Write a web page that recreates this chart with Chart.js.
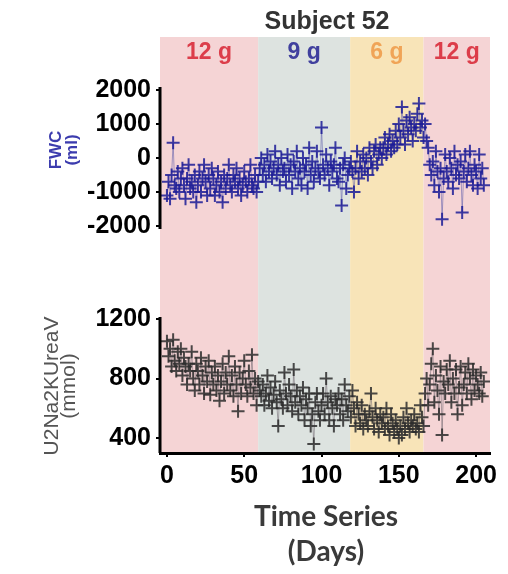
<!DOCTYPE html>
<html><head><meta charset="utf-8">
<script src="https://cdn.jsdelivr.net/npm/chart.js@4/dist/chart.umd.min.js"></script>
<style>html,body{margin:0;padding:0;background:#fff;}canvas{display:block;}</style>
</head><body>
<canvas id="c" width="508" height="574"></canvas>
<script>
// ---------- data ----------
const chartTitle = 'Subject 52';
const phaseLabels = ['12 g', '9 g', '6 g', '12 g'];
const phaseStarts = [-4.5, 59, 118.5, 166];
const phaseEnds = [59, 118.5, 166, 209];
const xTickValues = [0, 50, 100, 150, 200];
const fwcTickValues = [2000, 1000, 0, -1000, -2000];
const uTickValues = [1200, 800, 400];
const xTitleLines = ['Time Series', '(Days)'];
const fwcTitleLines = ['FWC', '(ml)'];
const uTitleLines = ['U2Na2KUreaV', '(mmol)'];

// FWC (ml), one value per day starting at day 0
const fwcValues = [
  -1100, -700, -1200, -500, 450, -800, -900, -400, -1000, -600,
  -300, -800, -1200, -600, -200, -900, -700, -1000, -500, -1300,
  -800, -400, -1000, -600, -200, -700, -1100, -500, -900, -300,
  -600, -1100, -800, -400, -1000, -700, -1300, -500, -900, -600,
  -200, -800, -1000, -500, -700, -300, -900, -600, -1100, -800,
  -400, -700, -1000, -600, -200, -800, -900, -500, -1000, -700,
  -300, 0, -500, -200, -700, 100, -400, -100, -600, -300,
  200, -500, -200, -800, 0, -400, -300, -700, 100, -500,
  -200, -900, -100, -400, 200, -600, -300, -800, 0, -400,
  -200, -900, 300, -500, -100, -700, -300, 200, -400, -600,
  900, -200, -500, 100, -300, -800, -100, -400, -200, 300,
  -600, -700, -300, -1400, -200, 0, -900, -500, -300, -100,
  -400, -1000, -300, 200, -600, -100, -400, 100, -300, 0,
  -500, 300, -100, -300, 200, 400, -200, 100, 300, 0,
  300, 600, 100, 400, 700, 200, 500, 300, 800, 400,
  1000, 600, 1500, 800, 400, 1100, 700, 1200, 900, 500,
  1000, 800, 1300, 1600, 900, 1100, 600, 1000, 500, 300,
  -200, -500, -100, -800, 200, -400, -1000, -300, -1800, -600,
  100, -400, -700, 0, -300, -900, 200, -500, -200, -600,
  -100, -1600, -400, 100, -700, -300, 200, -500, -800, -200,
  -400, -900, 100, -600, -300, -800
];

// U2Na2KUreaV (mmol), one value per day starting at day 0
const uValues = [
  1050, 950, 1000, 880, 1060, 920, 850, 980, 900, 1000,
  820, 940, 880, 760, 900, 850, 980, 800, 720, 900,
  850, 760, 940, 820, 700, 880, 780, 920, 690, 840,
  760, 880, 720, 820, 650, 780, 900, 700, 840, 760,
  950, 720, 820, 680, 880, 760, 580, 840, 700, 800,
  920, 760, 680, 850, 740, 960, 700, 800, 620, 780,
  720, 680, 760, 620, 700, 820, 650, 740, 600, 690,
  780, 640, 480, 720, 660, 600, 840, 700, 620, 760,
  680, 580, 860, 640, 720, 560, 680, 620, 740, 520,
  660, 600, 700, 480, 560, 360, 640, 700, 580, 520,
  620, 700, 560, 800, 640, 520, 680, 600, 480, 660,
  620, 700, 560, 660, 520, 760, 620, 580, 680, 540,
  720, 600, 480, 640, 560, 500, 620, 460, 560, 520,
  480, 580, 700, 540, 460, 600, 520, 440, 560, 500,
  540, 460, 600, 480, 420, 560, 500, 440, 520, 460,
  400, 480, 420, 540, 460, 600, 500, 440, 520, 480,
  560, 460, 500, 440, 620, 540, 480, 700, 800, 620,
  760, 900, 1000, 640, 820, 720, 560, 880, 420, 780,
  700, 860, 760, 920, 640, 800, 700, 860, 560, 740,
  880, 620, 760, 840, 700, 900, 800, 660, 860, 720,
  820, 760, 700, 840, 680, 780
];

// ---------- layout / style ----------
const W = 508, H = 574;
const AREA_TOP = 37, AREA_BOTTOM = 453, AREA_LEFT = 160, AREA_RIGHT = 490;
const X_MIN = -4.5, X_MAX = 209;
function yRange(vHi, pHi, vLo, pLo) {
  const k = (vHi - vLo) / (pLo - pHi);
  return { max: vHi + (pHi - AREA_TOP) * k, min: vLo - (AREA_BOTTOM - pLo) * k };
}
const rTop = yRange(2000, 90, -2000, 226);
const rBot = yRange(1200, 319, 400, 438);
const bandColors = ['#f5d4d5', '#dde3e0', '#f8e4b8', '#f5d4d5'];
const phaseColors = ['#dc3d4a', '#40409e', '#f0a457', '#dc3d4a'];
const tickFont = { family: '"Liberation Sans", Arial, sans-serif', size: 25, weight: 'bold' };

function tickSetter(values) {
  return s => { s.ticks = values.map(v => ({ value: v })); };
}

const bandsPlugin = {
  id: 'bands',
  afterLayout(chart) {
    // let the inner (zero-width) lower y axis use the whole left margin for its labels
    chart.scales.yBot.left = 0;
  },
  beforeDraw(chart) {
    const ctx = chart.ctx, x = chart.scales.x, ca = chart.chartArea;
    ctx.save();
    ctx.fillStyle = '#fff';
    ctx.fillRect(0, 0, chart.width, chart.height);
    for (let i = 0; i < phaseStarts.length; i++) {
      const x0 = x.getPixelForValue(phaseStarts[i]);
      const x1 = x.getPixelForValue(phaseEnds[i]);
      ctx.fillStyle = bandColors[i];
      ctx.fillRect(x0, ca.top, x1 - x0, ca.bottom - ca.top);
    }
    ctx.restore();
  }
};

const textPlugin = {
  id: 'texts',
  afterDraw(chart) {
    const ctx = chart.ctx, x = chart.scales.x, ca = chart.chartArea;
    const yT = chart.scales.yTop, yB = chart.scales.yBot;
    ctx.save();
    // y axis lines (partial)
    ctx.strokeStyle = '#000';
    ctx.lineWidth = 3;
    ctx.beginPath();
    ctx.moveTo(ca.left, yT.getPixelForValue(fwcTickValues[0]) - 3);
    ctx.lineTo(ca.left, yT.getPixelForValue(fwcTickValues[fwcTickValues.length - 1]) + 3);
    ctx.moveTo(ca.left, yB.getPixelForValue(uTickValues[0]) - 2);
    ctx.lineTo(ca.left, ca.bottom);
    ctx.stroke();

    ctx.textAlign = 'center';
    ctx.textBaseline = 'middle';
    // title
    ctx.fillStyle = '#333';
    ctx.font = 'bold 25px "Liberation Sans", Arial, sans-serif';
    ctx.fillText(chartTitle, (ca.left + ca.right) / 2 + 2, 22);
    // phase labels
    ctx.font = 'bold 23px "Liberation Sans", Arial, sans-serif';
    for (let i = 0; i < phaseLabels.length; i++) {
      const cx = (x.getPixelForValue(phaseStarts[i]) + x.getPixelForValue(phaseEnds[i])) / 2;
      ctx.fillStyle = phaseColors[i];
      ctx.fillText(phaseLabels[i], cx, 53);
    }
    // x title
    ctx.fillStyle = '#3a3a3a';
    ctx.font = 'bold 28px Lato, "Open Sans", sans-serif';
    ctx.fillText(xTitleLines[0], (ca.left + ca.right) / 2 + 1, 517);
    ctx.fillText(xTitleLines[1], (ca.left + ca.right) / 2 + 1, 552);
    // y titles
    ctx.save();
    ctx.translate(56, 150);
    ctx.rotate(-Math.PI / 2);
    ctx.fillStyle = '#3c3cae';
    ctx.font = 'bold 17px "Liberation Sans", Arial, sans-serif';
    ctx.fillText(fwcTitleLines[0], 0, 0);
    ctx.fillText(fwcTitleLines[1], 0, 16);
    ctx.restore();
    ctx.save();
    ctx.translate(52, 386);
    ctx.rotate(-Math.PI / 2);
    ctx.fillStyle = '#555';
    ctx.font = '21px "Liberation Sans", Arial, sans-serif';
    ctx.fillText(uTitleLines[0], 0, 0);
    ctx.fillText(uTitleLines[1], 0, 17);
    ctx.restore();
    ctx.restore();
  }
};

new Chart(document.getElementById('c'), {
  type: 'line',
  data: {
    datasets: [
      {
        data: fwcValues.map((v, i) => ({ x: i, y: v })),
        yAxisID: 'yTop', xAxisID: 'x',
        borderColor: 'rgba(90,90,170,0.55)', borderWidth: 1,
        pointStyle: 'cross', pointRadius: 6.5, pointBorderWidth: 2,
        pointBorderColor: 'rgba(28,28,150,0.85)', pointBackgroundColor: 'rgba(0,0,0,0)',
        tension: 0, fill: false
      },
      {
        data: uValues.map((v, i) => ({ x: i, y: v })),
        yAxisID: 'yBot', xAxisID: 'x',
        borderColor: 'rgba(110,100,110,0.55)', borderWidth: 1,
        pointStyle: 'cross', pointRadius: 6.5, pointBorderWidth: 2,
        pointBorderColor: 'rgba(45,45,45,0.85)', pointBackgroundColor: 'rgba(0,0,0,0)',
        tension: 0, fill: false
      }
    ]
  },
  options: {
    responsive: false,
    animation: false,
    layout: { padding: { left: 0, right: W - AREA_RIGHT, top: AREA_TOP, bottom: 0 } },
    plugins: { legend: { display: false }, tooltip: { enabled: false }, title: { display: false } },
    scales: {
      x: {
        type: 'linear', position: 'bottom', min: X_MIN, max: X_MAX,
        afterBuildTicks: tickSetter(xTickValues),
        afterFit: s => { s.height = H - AREA_BOTTOM; },
        ticks: { autoSkip: false, maxRotation: 0, padding: 4, color: '#000', font: tickFont, callback: v => String(v) },
        grid: { drawOnChartArea: false, drawTicks: true, tickLength: 4, color: '#000', lineWidth: 2 },
        border: { display: true, color: '#000', width: 3 }
      },
      yTop: {
        type: 'linear', position: 'left', weight: 1, min: rTop.min, max: rTop.max,
        afterBuildTicks: tickSetter(fwcTickValues),
        afterFit: s => { s.width = AREA_LEFT; },
        ticks: { autoSkip: false, padding: 5, color: '#000', font: tickFont, callback: v => String(v) },
        grid: { drawOnChartArea: false, drawTicks: true, tickLength: 4, color: '#000', lineWidth: 2 },
        border: { display: false }
      },
      yBot: {
        type: 'linear', position: 'left', weight: 0, min: rBot.min, max: rBot.max,
        afterBuildTicks: tickSetter(uTickValues),
        afterFit: s => { s.width = 0; },
        ticks: { autoSkip: false, padding: 5, color: '#000', font: tickFont, callback: v => String(v) },
        grid: { drawOnChartArea: false, drawTicks: true, tickLength: 4, color: '#000', lineWidth: 2 },
        border: { display: false }
      }
    }
  },
  plugins: [bandsPlugin, textPlugin]
});
</script>
</body></html>
